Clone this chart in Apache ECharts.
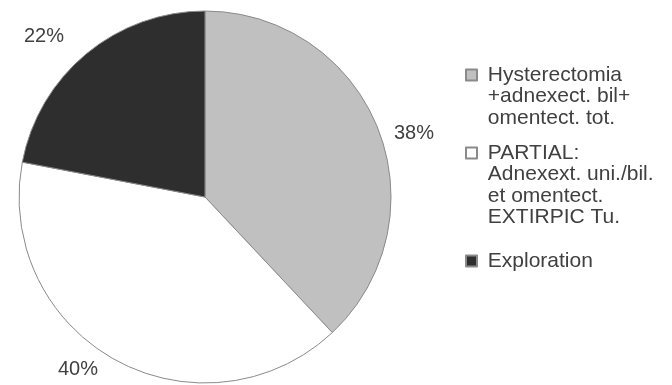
<!DOCTYPE html>
<html>
<head>
<meta charset="utf-8">
<script src="https://cdn.jsdelivr.net/npm/echarts@6/dist/echarts.min.js"></script>
<style>
  html, body { margin: 0; padding: 0; background: #ffffff; }
  #chart { width: 672px; height: 385px; }
</style>
</head>
<body>
<div id="chart"></div>
<script>
// Surgical procedure categories and their shares (%)
const categories = [
  'Hysterectomia\n+adnexect. bil+\nomentect. tot.',
  'PARTIAL:\nAdnexext. uni./bil.\net omentect.\nEXTIRPIC Tu.',
  'Exploration'
];
const shares = [38, 40, 22];

// Styling
const sliceColors = ['#c0c0c0', '#ffffff', '#2e2e2e'];
const textColor = '#404040';
const fontFamily = 'Liberation Sans, Arial, sans-serif';
const lineH = 21.5;
// percentage label anchor points (px)
const labelAnchors = [[414, 133], [78, 369], [44, 36]];
// legend: marker centre y of each entry (aligned with the first text line)
const legendMarkerY = [75, 153, 261];

const chart = echarts.init(document.getElementById('chart'), null, { renderer: 'canvas' });

const pieData = categories.map((name, i) => ({
  name: name,
  value: shares[i],
  itemStyle: { color: sliceColors[i] }
}));

// One legend per entry; the text block is padded with leading blank lines
// so that the marker lines up with its first line.
const legends = categories.map((name, i) => {
  const n = name.split('\n').length;
  const blockH = (2 * n - 1) * lineH;
  return {
    orient: 'vertical',
    left: 465,
    top: legendMarkerY[i] - blockH / 2,
    padding: 0,
    itemWidth: 11,
    itemHeight: 11,
    icon: 'rect',
    selectedMode: false,
    data: [name],
    formatter: function (label) {
      const lines = label.split('\n').map(s => ' ' + s);
      return '\n'.repeat(lines.length - 1) + lines.join('\n');
    },
    textStyle: {
      fontFamily: fontFamily,
      fontSize: 21,
      lineHeight: lineH,
      color: textColor
    }
  };
});

chart.setOption({
  backgroundColor: '#ffffff',
  animation: false,
  legend: legends,
  series: [{
    type: 'pie',
    center: [205, 197],
    radius: 186,
    startAngle: 90,
    clockwise: true,
    data: pieData,
    itemStyle: { borderColor: '#8a8a8a', borderWidth: 1 },
    label: {
      show: true,
      position: 'outside',
      formatter: '{d}%',
      fontFamily: fontFamily,
      fontSize: 20,
      color: textColor,
      overflow: 'none'
    },
    labelLine: { show: false },
    labelLayout: function (params) {
      const p = labelAnchors[params.dataIndex];
      return { x: p[0], y: p[1], align: 'center', verticalAlign: 'middle', width: 80 };
    },
    emphasis: { disabled: true }
  }]
});
</script>
</body>
</html>
